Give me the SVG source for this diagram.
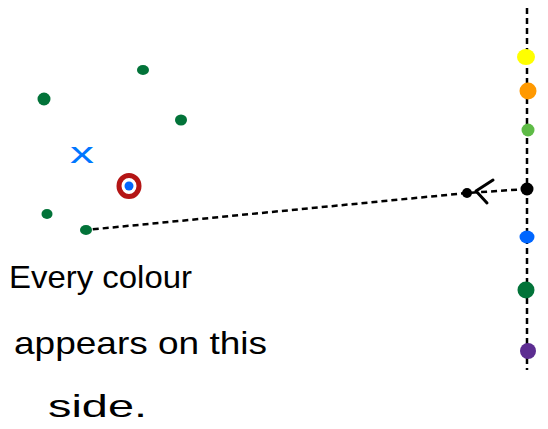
<svg xmlns="http://www.w3.org/2000/svg" width="548" height="429" viewBox="0 0 548 429">
<style>
.dash{fill:none;stroke:#000;stroke-width:2.5;stroke-dasharray:6 4}
.g{fill:#027339}
.t{font-family:"Liberation Sans",sans-serif;font-size:32px;fill:#000}
</style>
<rect width="548" height="429" fill="#fff"/>
<g id="connectors">
<line class="dash" x1="527" y1="8" x2="527" y2="370"/>
<line class="dash" x1="527" y1="189" x2="467" y2="193"/>
<line class="dash" x1="467" y1="193" x2="86" y2="230"/>
<polyline points="493,180 476,191 487,203" fill="none" stroke="#000" stroke-width="3" stroke-linecap="round" stroke-linejoin="round"/>
</g>
<g id="right-dots">
<ellipse cx="526" cy="57" rx="9" ry="8" fill="#ffff00"/>
<circle cx="528" cy="91" r="8.5" fill="#ff9900"/>
<circle cx="528" cy="130" r="6.5" fill="#5ebb46"/>
<circle cx="527" cy="189" r="6.5" fill="#000"/>
<ellipse cx="527" cy="237" rx="7.5" ry="6.5" fill="#0066ff"/>
<circle cx="526" cy="290" r="8.5" fill="#027339"/>
<circle cx="528" cy="351" r="8" fill="#5c2d91"/>
<circle cx="467" cy="193" r="5" fill="#000"/>
</g>
<g id="left-dots">
<ellipse class="g" cx="143" cy="70" rx="6" ry="5"/>
<circle class="g" cx="44" cy="99" r="6.5"/>
<ellipse class="g" cx="181" cy="120" rx="6" ry="5.5"/>
<ellipse class="g" cx="47" cy="214" rx="5.5" ry="5"/>
<ellipse class="g" cx="86" cy="230" rx="6" ry="5"/>
</g>
<g id="query">
<ellipse cx="129" cy="186" rx="10" ry="10.5" fill="none" stroke="#b41515" stroke-width="5"/>
<circle cx="129" cy="186" r="4.5" fill="#0066ff"/>
</g>
<g id="x-label">
<text x="82" y="163" font-family="Liberation Sans,sans-serif" font-size="30" fill="#0077ff" text-anchor="middle" textLength="24" lengthAdjust="spacingAndGlyphs">x</text>
</g>
<g id="caption">
<text class="t" x="9" y="288" textLength="183" lengthAdjust="spacingAndGlyphs">Every colour</text>
<text class="t" x="14" y="354" textLength="253" lengthAdjust="spacingAndGlyphs">appears on this</text>
<text class="t" x="48" y="417" textLength="99" lengthAdjust="spacingAndGlyphs">side.</text>
</g>
</svg>
